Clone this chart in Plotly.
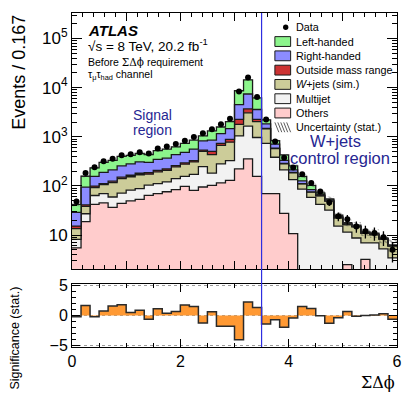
import numpy as np
import plotly.graph_objects as go

# ---------------- data ----------------
n_bins = 36
x_min, x_max = 0.0, 6.0
edges = [round(x_min + i * (x_max - x_min) / n_bins, 5) for i in range(n_bins + 1)]
centers = [(edges[i] + edges[i + 1]) / 2 for i in range(n_bins)]

data_counts = [48, 183, 239, 318, 359, 422, 443, 483, 457, 576, 638, 710, 827, 995,
               1181, 1421, 1793, 2335, 8390, 16030, 6470, 2260, 803, 376, 237, 173,
               115, 77, 46, 24, 21, 15, 12, 11, 9, 5]

others = [5.5, 18.7, 42, 45, 36.6, 44, 49.4, 53, 64, 70, 76, 84, 98, 81.5, 95, 103,
          115, 130, 223, 354, 156, 70, 70, 27.7, 10.7, 1, 1, 1, 1, 1.2, 2.5, 1, 3.2,
          1, 1, 1]
multijet = [2.65, 8.4, 21.8, 24.9, 22.9, 27.6, 32.9, 35.2, 40, 41.2, 44.6, 56.1, 57.8,
            89.7, 152.5, 79.8, 166, 197.4, 819, 1302, 812, 663, 313, 185, 123.2, 85.2,
            57.2, 41, 31.3, 14, 9, 7.7, 3.7, 5.9, 4.23, 2.44]
wjets = [5.4, 11.2, 28.6, 36.2, 57, 68.7, 71.5, 80.5, 69, 82.8, 87.7, 104.1, 121,
         137.1, 258, 249.4, 387, 451, 750, 1426, 1064, 722, 193, 68.1, 51.2, 23.4,
         16.8, 20.9, 16.7, 7.1, 4.8, 6, 3.97, 3.24, 3.0, 2.51]
outside = [1.7, 2.8, 6.7, 5, 8.4, 10, 11.1, 12.2, 12.3, 14, 14.8, 15.3, 17.3, 19, 31,
           74, 65, 104, 467, 628, 227, 34, 14, 6.6, 4.4, 1.6, 0.7, 0.9, 0.4, 0.2, 0.1,
           0.1, 0.1, 0.09, 0.08, 0.05]
right_handed = [13.8, 53.5, 56.9, 78.3, 87.9, 105.8, 116, 127.4, 116.1, 138, 143.2,
                172.3, 188.7, 235.7, 290, 348, 432, 587, 2270, 3720, 1332, 345, 120,
                42.9, 23.3, 14.9, 8.5, 3.9, 2.4, 1.1, 0.6, 0.4, 0.23, 0.24, 0.11, 0.09]
left_handed = [13, 62.8, 77.3, 111.5, 117.2, 141.7, 135.7, 148.7, 135.1, 179, 197, 194,
               250, 291, 215, 460, 416, 563, 4130, 6985, 2583, 374, 125, 96.2, 43.3,
               29.9, 18.6, 4.6, 2.4, 1.7, 0.8, 0.7, 0.45, 0.4, 0.28, 0.2]
stat_unc = [3.4, 8, 8, 9, 10, 11, 12, 13, 13, 15, 16, 18, 20, 23, 28, 33, 38, 50, 130,
            200, 110, 60, 35, 22, 16, 12, 9, 7.5, 6.5, 3.6, 2.7, 2.5, 2.1, 2.2, 1.9, 1.8]
significance = [-0.2, 1.7, -0.2, 0.75, 1.6, 1.8, 0.5, 0.9, -0.6, 1.15, 0.4, 0.7, 1.75,
                1.5, -1.25, 0.65, -1.8, -1.8, -4.05, 2.25, 1.35, -1.4, -0.7, -1.95,
                -0.4, 1.5, 1.2, -0.05, -1.3, -0.38, 0.7, -0.1, 0.0, 0.1, 0.3, -0.6]

y_tick_vals = [10, 100, 1000, 10000, 100000]
y_tick_text = ["10", "10<sup>2</sup>", "10<sup>3</sup>", "10<sup>4</sup>", "10<sup>5</sup>"]

layers = [
    ("Others", others, "#FFCCCC"),
    ("Multijet", multijet, "#F2F2F2"),
    ("<i>W</i>+jets (sim.)", wjets, "#CCCC99"),
    ("Outside mass range", outside, "#CC3333"),
    ("Right-handed", right_handed, "#8C8CFF"),
    ("Left-handed", left_handed, "#8CF58C"),
]

# ---------------- figure ----------------
FONT = "Liberation Sans, Arial, Helvetica, sans-serif"
LINE = "#1a1a1a"

fig = go.Figure()


def step(vals):
    v = list(vals)
    return v + [v[-1]]


# base for stacking on the log axis (below visible range)
fig.add_trace(go.Scatter(x=edges, y=step([0.05] * n_bins), mode="lines",
                         line=dict(width=0, shape="hv"), showlegend=False,
                         hoverinfo="skip", xaxis="x", yaxis="y"))
cum = np.zeros(n_bins)
for name, vals, col in layers:
    cum = cum + np.array(vals, dtype=float)
    fig.add_trace(go.Scatter(x=edges, y=step(cum), mode="lines", name=name,
                             line=dict(color=LINE, width=1.3, shape="hv"),
                             fill="tonexty", fillcolor=col, showlegend=False,
                             xaxis="x", yaxis="y"))

total = cum
unc = np.array(stat_unc, dtype=float)
fig.add_trace(go.Scatter(x=edges, y=step(total - unc), mode="lines",
                         line=dict(width=0, shape="hv"), showlegend=False,
                         hoverinfo="skip", xaxis="x", yaxis="y"))
fig.add_trace(go.Scatter(x=edges, y=step(total + unc), mode="lines",
                         line=dict(width=0, shape="hv"), fill="tonexty",
                         fillcolor="rgba(0,0,0,0)",
                         fillpattern=dict(shape="\\", fgcolor="#333333",
                                          bgcolor="rgba(0,0,0,0)", size=4,
                                          solidity=0.35, fillmode="overlay"),
                         showlegend=False, xaxis="x", yaxis="y"))

fig.add_trace(go.Scatter(x=centers, y=data_counts, mode="markers", name="Data",
                         marker=dict(color="black", size=6),
                         error_y=dict(type="data", array=np.sqrt(data_counts),
                                      color="black", thickness=1.3, width=0),
                         showlegend=False, xaxis="x", yaxis="y"))

# significance panel
fig.add_trace(go.Scatter(x=edges, y=step(significance), mode="lines",
                         line=dict(color="#2a2a2a", width=1.5, shape="hv"),
                         fill="tozeroy", fillcolor="#FF9933", showlegend=False,
                         xaxis="x2", yaxis="y2"))

minor_log = [k * 10 ** d for d in range(0, 6) for k in range(2, 10)]

axis_common = dict(showline=True, linecolor="black", linewidth=1, mirror="ticks",
                   showgrid=False, zeroline=False, tickcolor="black")

fig.update_layout(
    width=408, height=396,
    margin=dict(l=72, r=6, t=7, b=49),
    paper_bgcolor="white", plot_bgcolor="white",
    showlegend=False,
    font=dict(family=FONT, color="black"),
    xaxis=dict(domain=[0, 1], range=[x_min, x_max], anchor="y",
               showticklabels=False, ticks="inside", tickvals=[0, 1, 2, 3, 4, 5, 6],
               ticklen=8, minor=dict(ticks="inside", dtick=0.2, tick0=0, ticklen=4,
                                     tickcolor="black"),
               **axis_common),
    yaxis=dict(domain=[0.2324, 1], type="log", range=[np.log10(2), 5.52],
               anchor="x", tickvals=y_tick_vals, ticktext=y_tick_text,
               ticks="inside", ticklen=10, tickfont=dict(size=17),
               minor=dict(ticks="inside", tickvals=minor_log, ticklen=5,
                          tickcolor="black"),
               **axis_common),
    xaxis2=dict(domain=[0, 1], range=[x_min, x_max], anchor="y2",
                tickvals=[0, 2, 4, 6], ticks="inside", ticklen=8,
                tickfont=dict(size=16),
                minor=dict(ticks="inside", dtick=0.5, tick0=0, ticklen=4,
                           tickcolor="black"),
                **axis_common),
    yaxis2=dict(domain=[0, 0.1882], range=[-5.25, 5.25], anchor="x2",
                tickvals=[-5, 0, 5], ticks="inside", ticklen=8,
                tickfont=dict(size=16),
                minor=dict(ticks="inside", dtick=1, tick0=0, ticklen=4,
                           tickcolor="black"),
                showline=True, linecolor="black", linewidth=1, mirror="ticks",
                zeroline=False, tickcolor="black",
                showgrid=True, gridcolor="#9a9a9a", griddash="dot", gridwidth=1),
)


def px(xp):
    return (xp - 72) / 330.0


def py(yp):
    return (347 - yp) / 340.0


shapes = []
annotations = []

# boundary line between signal and control regions
shapes.append(dict(type="line", xref="x", yref="paper", x0=3.5, x1=3.5, y0=0, y1=1,
                   line=dict(color="#2E2EE0", width=1.2)))


def txt(x, y, s, size, xanchor="left", yanchor="middle", color="black", **kw):
    annotations.append(dict(x=px(x), y=py(y), xref="paper", yref="paper", text=s,
                            showarrow=False, xanchor=xanchor, yanchor=yanchor,
                            font=dict(size=size, color=color, family=FONT), **kw))


SERIF = '<span style="font-family:DejaVu Serif">ΣΔϕ</span>'
txt(86, 24.5, "<b><i>ATLAS</i></b>", 15)
txt(86, 40, "√s = 8 TeV, 20.2 fb<sup>-1</sup>", 13.5)
txt(86, 56.7, "Before " + SERIF + " requirement", 10.5)
txt(86, 70.5, "τ<sub>μ</sub>τ<sub>had</sub> channel", 10.5)
txt(153.5, 111, "Signal", 14, xanchor="center", color="#262692")
txt(154, 126.3, "region", 14, xanchor="center", color="#262692")
txt(339.5, 137.5, "W+jets", 16.5, xanchor="center", color="#262692")
txt(344, 155, "control region", 16.5, xanchor="center", color="#262692")
txt(17.5, 7, "Events / 0.167", 18, xanchor="center", yanchor="top", textangle=-90)
txt(14, 283, "Significance (stat.)", 12.5, xanchor="center", yanchor="top",
    textangle=-90)
annotations.append(dict(x=px(402), y=py(383), xref="paper", yref="paper",
                        text="ΣΔϕ", showarrow=False, xanchor="right",
                        yanchor="middle",
                        font=dict(size=16, color="black", family="DejaVu Serif")))

# manual legend
leg_y0 = 21.5
leg_dy = 14.55
legend_rows = ["Data"] + [l[0] for l in reversed(layers)] + ["Uncertainty (stat.)"]
layer_colors = {l[0]: l[2] for l in layers}
for i, label in enumerate(legend_rows):
    yc = leg_y0 + i * leg_dy
    if label == "Data":
        shapes.append(dict(type="circle", xref="paper", yref="paper",
                           x0=px(286.3), x1=px(291.7), y0=py(yc + 2.7),
                           y1=py(yc - 2.7), fillcolor="black",
                           line=dict(color="black", width=0)))
    elif label.startswith("Uncertainty"):
        for xs in [278, 281, 284, 287, 290]:
            shapes.append(dict(type="line", xref="paper", yref="paper",
                               x0=px(xs), x1=px(xs + 4), y0=py(yc - 5), y1=py(yc + 5),
                               line=dict(color="#333333", width=0.8)))
    else:
        shapes.append(dict(type="rect", xref="paper", yref="paper",
                           x0=px(278), x1=px(294), y0=py(yc + 5), y1=py(yc - 5),
                           fillcolor=layer_colors[label],
                           line=dict(color=LINE, width=1)))
    txt(297.5, yc, label, 10.8)

fig.update_layout(shapes=shapes, annotations=annotations)

fig.write_html("out.html")
